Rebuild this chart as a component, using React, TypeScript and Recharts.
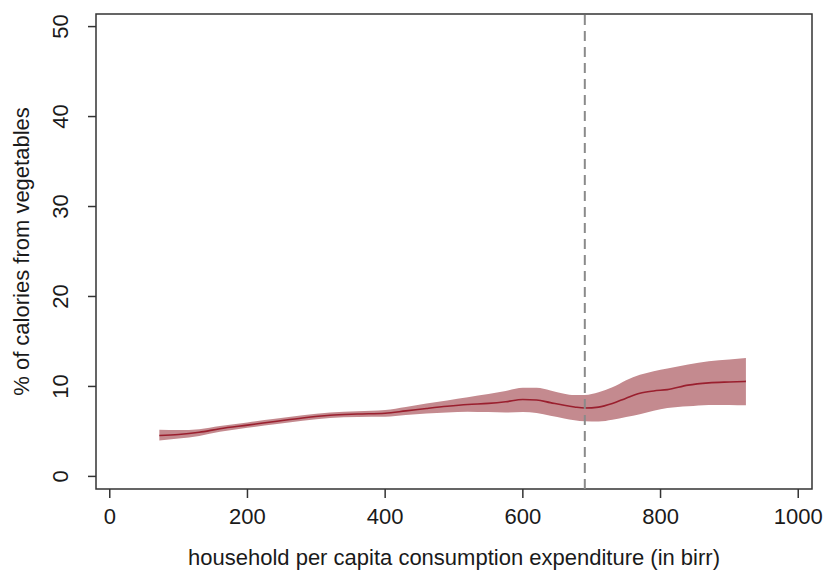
import React from "react";
import {
  ComposedChart,
  Area,
  Line,
  XAxis,
  YAxis,
  ReferenceLine,
  ReferenceArea,
} from "recharts";

const expenditure = [72, 100, 130, 160, 200, 240, 280, 320, 360, 400, 430, 460, 490, 520, 550, 575, 600, 620, 640, 660, 675, 690, 710, 730, 750, 770, 790, 810, 840, 870, 900, 924];
const fitted = [4.55, 4.65, 4.9, 5.3, 5.7, 6.1, 6.5, 6.8, 6.93, 7.02, 7.28, 7.55, 7.8, 8.0, 8.12, 8.3, 8.55, 8.5, 8.2, 7.9, 7.72, 7.6, 7.7, 8.1, 8.7, 9.25, 9.5, 9.65, 10.15, 10.4, 10.5, 10.56];
const lowerCI = [4.0, 4.2, 4.5, 4.95, 5.4, 5.8, 6.2, 6.5, 6.6, 6.62, 6.82, 7.0, 7.1, 7.2, 7.15, 7.1, 7.15, 7.05, 6.75, 6.45, 6.25, 6.12, 6.1, 6.3, 6.6, 6.9, 7.3, 7.6, 7.8, 7.95, 7.95, 7.9];
const upperCI = [5.2, 5.15, 5.25, 5.6, 6.0, 6.4, 6.8, 7.1, 7.25, 7.38, 7.72, 8.1, 8.45, 8.8, 9.15, 9.5, 9.85, 9.85, 9.55, 9.2, 9.05, 9.05, 9.35, 9.9, 10.7, 11.3, 11.7, 12.0, 12.45, 12.8, 13.0, 13.15];

const xTicks = [0, 200, 400, 600, 800, 1000];
const yTicks = [0, 10, 20, 30, 40, 50];
const cutoff = 690;

const xTitle = "household per capita consumption expenditure (in birr)";
const yTitle = "% of calories from vegetables";

const data = expenditure.map((x, i) => ({
  x,
  mid: fitted[i],
  band: [lowerCI[i], upperCI[i]],
}));

const FONT = "'Liberation Sans', Arial, sans-serif";
const TEXT = "#1a1a1a";

const XTick = (props: any) => {
  const { x, payload } = props;
  return (
    <text x={x} y={524} textAnchor="middle" fontFamily={FONT} fontSize={22} fill={TEXT}>
      {payload.value}
    </text>
  );
};

const YTick = (props: any) => {
  const { y, payload } = props;
  return (
    <text
      x={68}
      y={y}
      transform={`rotate(-90, 68, ${y})`}
      textAnchor="middle"
      fontFamily={FONT}
      fontSize={22}
      fill={TEXT}
    >
      {payload.value}
    </text>
  );
};

export default function App() {
  return (
    <div style={{ position: "absolute", left: 0, top: 0, background: "#fff" }}>
      <ComposedChart
        width={824}
        height={570}
        data={data}
        margin={{ top: 14, right: 12, left: 0, bottom: 0 }}
      >
        <XAxis
          type="number"
          dataKey="x"
          domain={[-20, 1020]}
          ticks={xTicks}
          allowDataOverflow
          height={81}
          axisLine={false}
          tickSize={9}
          tickLine={{ stroke: "#333", strokeWidth: 1.5 }}
          tick={<XTick />}
          interval={0}
        />
        <YAxis
          type="number"
          domain={[-1.4, 51.4]}
          ticks={yTicks}
          allowDataOverflow
          width={96}
          axisLine={false}
          tickSize={8}
          tickLine={{ stroke: "#333", strokeWidth: 1.5 }}
          tick={<YTick />}
          interval={0}
        />
        <Area
          dataKey="band"
          type="monotone"
          fill="#C48A8F"
          fillOpacity={1}
          stroke="none"
          isAnimationActive={false}
        />
        <Line
          dataKey="mid"
          type="monotone"
          stroke="#9A1F2E"
          strokeWidth={1.6}
          dot={false}
          activeDot={false}
          isAnimationActive={false}
        />
        <ReferenceLine
          x={cutoff}
          stroke="#8a8a8a"
          strokeWidth={2}
          strokeDasharray="10 6"
        />
        <ReferenceArea
          x1={-20}
          x2={1020}
          y1={-1.4}
          y2={51.4}
          fill="none"
          fillOpacity={0}
          stroke="#333"
          strokeWidth={1.5}
          ifOverflow="visible"
        />
        <text x={454} y={565} textAnchor="middle" fontFamily={FONT} fontSize={22} fill={TEXT}>
          {xTitle}
        </text>
        <text
          x={29}
          y={251.5}
          transform="rotate(-90, 29, 251.5)"
          textAnchor="middle"
          fontFamily={FONT}
          fontSize={22}
          fill={TEXT}
        >
          {yTitle}
        </text>
      </ComposedChart>
    </div>
  );
}
